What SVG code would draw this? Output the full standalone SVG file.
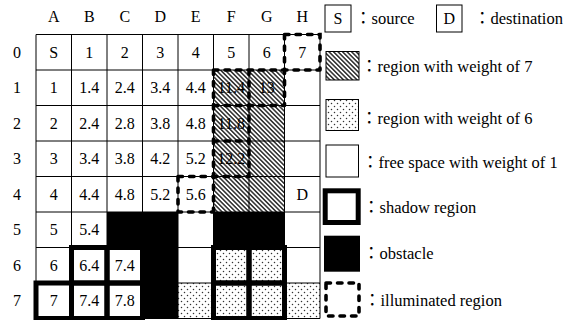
<svg xmlns="http://www.w3.org/2000/svg" width="575" height="320" viewBox="0 0 575 320">
<style>
.t{font-family:"Liberation Serif","Times New Roman",serif;font-size:16px;text-anchor:middle;fill:#000}
.lg{font-family:"Liberation Serif","Noto Sans CJK JP",serif;font-size:16.5px;fill:#000}
.grid{stroke:#000;stroke-width:1;fill:none}
.obs{fill:#000}
.shadow{fill:none;stroke:#000;stroke-width:5}
.illum{fill:none;stroke:#000;stroke-width:3.6;stroke-dasharray:4.5 7;stroke-linecap:round}
.box{stroke:#000;stroke-width:1}
</style>
<defs>
<pattern id="hatch" patternUnits="userSpaceOnUse" width="3.2" height="3.2" patternTransform="rotate(-45)">
<rect width="3.2" height="3.2" fill="#fff"/>
<line x1="0.8" y1="-1" x2="0.8" y2="4.2" stroke="#2a2a2a" stroke-width="1.5"/>
</pattern>
<pattern id="dots" patternUnits="userSpaceOnUse" width="6" height="6">
<rect width="6" height="6" fill="#fff"/>
<circle cx="1.5" cy="1.5" r="0.75" fill="#333"/>
<circle cx="4.5" cy="4.5" r="0.75" fill="#333"/>
</pattern>
</defs>
<rect width="575" height="320" fill="#fff"/>

<g id="axis-labels" class="t">
<text x="53.75" y="22">A</text><text x="89.25" y="22">B</text><text x="124.75" y="22">C</text><text x="160.25" y="22">D</text>
<text x="195.75" y="22">E</text><text x="231.25" y="22">F</text><text x="266.75" y="22">G</text><text x="302.25" y="22">H</text>
<text x="17" y="57.75">0</text><text x="17" y="93.25">1</text><text x="17" y="128.75">2</text><text x="17" y="164.25">3</text>
<text x="17" y="199.75">4</text><text x="17" y="235.25">5</text><text x="17" y="270.75">6</text><text x="17" y="306.25">7</text>
</g>

<g id="region-fills">
<rect id="weight7-region" x="213.5" y="70" width="71" height="142" fill="url(#hatch)"/>
<rect id="weight6-FG67" x="213.5" y="247.5" width="71" height="71" fill="url(#dots)"/>
<rect id="weight6-E7" x="178" y="283" width="35.5" height="35.5" fill="url(#dots)"/>
<rect id="weight6-H7" x="284.5" y="283" width="35.5" height="35.5" fill="url(#dots)"/>
</g>

<g id="grid-lines" class="grid">
<path d="M36,34.5V318.5M71.5,34.5V318.5M107,34.5V318.5M142.5,34.5V318.5M178,34.5V318.5M213.5,34.5V318.5M249,34.5V318.5M284.5,34.5V318.5M320,34.5V318.5"/>
<path d="M36,34.5H320M36,70H320M36,105.5H320M36,141H320M36,176.5H320M36,212H320M36,247.5H320M36,283H320M36,318.5H320"/>
</g>

<g id="obstacles" class="obs">
<rect x="107" y="212" width="71" height="35.5"/>
<rect x="142.5" y="212" width="35.5" height="106.5"/>
<rect x="213.5" y="212" width="71" height="35.5"/>
</g>

<g id="shadow-cells" class="shadow">
<rect x="71.5" y="247.5" width="35.5" height="35.5"/>
<rect x="107" y="247.5" width="35.5" height="35.5"/>
<rect x="36" y="283" width="35.5" height="35.5"/>
<rect x="71.5" y="283" width="35.5" height="35.5"/>
<rect x="107" y="283" width="35.5" height="35.5"/>
<rect x="213.5" y="247.5" width="35.5" height="35.5"/>
<rect x="249" y="247.5" width="35.5" height="35.5"/>
<rect x="213.5" y="283" width="35.5" height="35.5"/>
<rect x="249" y="283" width="35.5" height="35.5"/>
</g>

<g id="illuminated-cells" class="illum">
<path d="M284.5,34.5H320V70M213.5,70H320M284.5,34.5V105.5M213.5,105.5H284.5M213.5,70V212M249,70V176.5M213.5,141H249M178,176.5H249M178,176.5V212H213.5"/>
</g>

<g id="cell-values" class="t">
<text x="53.75" y="57.75">S</text><text x="89.25" y="57.75">1</text><text x="124.75" y="57.75">2</text><text x="160.25" y="57.75">3</text><text x="195.75" y="57.75">4</text><text x="231.25" y="57.75">5</text><text x="266.75" y="57.75">6</text><text x="302.25" y="57.75">7</text>
<text x="53.75" y="93.25">1</text><text x="89.25" y="93.25">1.4</text><text x="124.75" y="93.25">2.4</text><text x="160.25" y="93.25">3.4</text><text x="195.75" y="93.25">4.4</text><text x="231.25" y="93.25">11.4</text><text x="266.75" y="93.25">13</text>
<text x="53.75" y="128.75">2</text><text x="89.25" y="128.75">2.4</text><text x="124.75" y="128.75">2.8</text><text x="160.25" y="128.75">3.8</text><text x="195.75" y="128.75">4.8</text><text x="231.25" y="128.75">11.8</text>
<text x="53.75" y="164.25">3</text><text x="89.25" y="164.25">3.4</text><text x="124.75" y="164.25">3.8</text><text x="160.25" y="164.25">4.2</text><text x="195.75" y="164.25">5.2</text><text x="231.25" y="164.25">12.2</text>
<text x="53.75" y="199.75">4</text><text x="89.25" y="199.75">4.4</text><text x="124.75" y="199.75">4.8</text><text x="160.25" y="199.75">5.2</text><text x="195.75" y="199.75">5.6</text><text x="302.25" y="199.75">D</text>
<text x="53.75" y="235.25">5</text><text x="89.25" y="235.25">5.4</text>
<text x="53.75" y="270.75">6</text><text x="89.25" y="270.75">6.4</text><text x="124.75" y="270.75">7.4</text>
<text x="53.75" y="306.25">7</text><text x="89.25" y="306.25">7.4</text><text x="124.75" y="306.25">7.8</text>
</g>

<g id="legend">
<g id="legend-source">
<rect class="box" x="325" y="5" width="26" height="27" fill="#fff"/>
<text class="t" x="338" y="24">S</text>
<text class="lg" x="355" y="24">：source</text>
</g>
<g id="legend-destination">
<rect class="box" x="436.5" y="5" width="25.5" height="27" fill="#fff"/>
<text class="t" x="449.25" y="24">D</text>
<text class="lg" x="474" y="24">：destination</text>
</g>
<g id="legend-weight7">
<rect class="box" x="326" y="51.5" width="33" height="28.5" fill="url(#hatch)"/>
<text class="lg" x="361" y="71.5">：region with weight of 7</text>
</g>
<g id="legend-weight6">
<rect class="box" x="326" y="99.5" width="32.5" height="31" fill="url(#dots)"/>
<text class="lg" x="361" y="124">：region with weight of 6</text>
</g>
<g id="legend-free">
<rect class="box" x="326" y="145" width="32.5" height="32" fill="#fff"/>
<text class="lg" x="362" y="167.5">：free space with weight of 1</text>
</g>
<g id="legend-shadow">
<rect class="shadow" x="325.2" y="190.8" width="33" height="31.7"/>
<text class="lg" x="363" y="212.5">：shadow region</text>
</g>
<g id="legend-obstacle">
<rect class="obs" x="324" y="235.7" width="36" height="36"/>
<text class="lg" x="363" y="259">：obstacle</text>
</g>
<g id="legend-illuminated">
<rect class="illum" x="326" y="283" width="33" height="33"/>
<text class="lg" x="364" y="306">：illuminated region</text>
</g>
</g>
</svg>
